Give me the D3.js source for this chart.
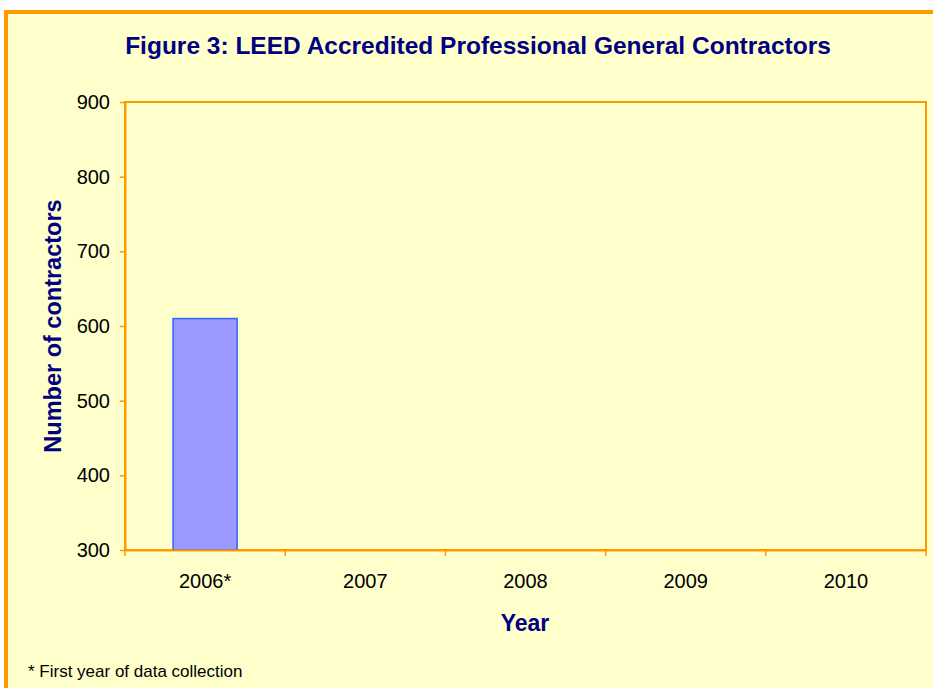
<!DOCTYPE html>
<html>
<head>
<meta charset="utf-8">
<script src="https://cdn.jsdelivr.net/npm/d3@7"></script>
<style>
  html, body { margin: 0; padding: 0; background: #fff; }
  svg { display: block; font-family: Arial, "Liberation Sans", sans-serif; }
</style>
</head>
<body>
<svg id="chart" width="933" height="688"></svg>
<script>
// data
const years = ["2006*", "2007", "2008", "2009", "2010"];
const contractors = [610, null, null, null, null];
const yTicks = [300, 400, 500, 600, 700, 800, 900];

const svg = d3.select("#chart");
const orange = "#FF9900";
const navy = "#000080";

// outer panel, cut off at right and bottom like the source
svg.append("rect")
  .attr("x", 6).attr("y", 12)
  .attr("width", 960).attr("height", 700)
  .attr("fill", "#FFFFCC")
  .attr("stroke", orange)
  .attr("stroke-width", 4);

const plot = { left: 125, top: 102, right: 926, bottom: 550 };

const x = d3.scaleBand()
  .domain(years)
  .range([plot.left, plot.right])
  .paddingInner(0.6)
  .paddingOuter(0.3);

const y = d3.scaleLinear()
  .domain([300, 900])
  .range([plot.bottom, plot.top]);

// plot frame (top / right)
svg.append("rect")
  .attr("x", plot.left).attr("y", plot.top)
  .attr("width", plot.right - plot.left).attr("height", plot.bottom - plot.top)
  .attr("fill", "none")
  .attr("stroke", orange)
  .attr("stroke-width", 2);

// bars
const data = years.map((d, i) => ({ year: d, value: contractors[i] })).filter(d => d.value != null);
svg.append("g")
  .selectAll("rect")
  .data(data)
  .join("rect")
  .attr("x", d => x(d.year))
  .attr("y", d => y(d.value))
  .attr("width", x.bandwidth())
  .attr("height", d => y(300) - y(d.value))
  .attr("fill", "#9999FF")
  .attr("stroke", "#3366FF")
  .attr("stroke-width", 1.5);

// y axis
const yAxis = svg.append("g")
  .attr("transform", `translate(${plot.left},0)`)
  .call(d3.axisLeft(y).tickValues(yTicks).tickSize(5).tickPadding(10).tickSizeOuter(0));
yAxis.select(".domain").attr("stroke", orange).attr("stroke-width", 2);
yAxis.selectAll(".tick line").attr("stroke", orange).attr("stroke-width", 1.5);
yAxis.selectAll(".tick text")
  .attr("fill", "#000")
  .style("font-size", "20px");

// x axis: ticks sit at category boundaries
const xAxis = svg.append("g")
  .attr("transform", `translate(0,${plot.bottom})`)
  .call(d3.axisBottom(x).tickSize(0).tickPadding(24).tickSizeOuter(0));
xAxis.select(".domain").attr("stroke", orange).attr("stroke-width", 2);
xAxis.selectAll(".tick text")
  .attr("fill", "#000")
  .style("font-size", "20px");

const step = x.step();
const bounds = d3.range(years.length + 1).map(i => plot.left + i * step);
xAxis.selectAll(".bound")
  .data(bounds)
  .join("line")
  .attr("class", "bound")
  .attr("x1", d => d).attr("x2", d => d)
  .attr("y1", 0).attr("y2", 6)
  .attr("stroke", orange)
  .attr("stroke-width", 1.5);

// title and labels
svg.append("text")
  .attr("x", 478).attr("y", 54)
  .attr("text-anchor", "middle")
  .attr("fill", navy)
  .style("font-size", "24.5px")
  .style("font-weight", "bold")
  .text("Figure 3: LEED Accredited Professional General Contractors");

svg.append("text")
  .attr("transform", "translate(61,326) rotate(-90)")
  .attr("text-anchor", "middle")
  .attr("fill", navy)
  .style("font-size", "23.5px")
  .style("font-weight", "bold")
  .text("Number of contractors");

svg.append("text")
  .attr("x", 525).attr("y", 631)
  .attr("text-anchor", "middle")
  .attr("fill", navy)
  .style("font-size", "23px")
  .style("font-weight", "bold")
  .text("Year");

svg.append("text")
  .attr("x", 28).attr("y", 677)
  .attr("fill", "#000")
  .style("font-size", "17px")
  .text("* First year of data collection");
</script>
</body>
</html>
